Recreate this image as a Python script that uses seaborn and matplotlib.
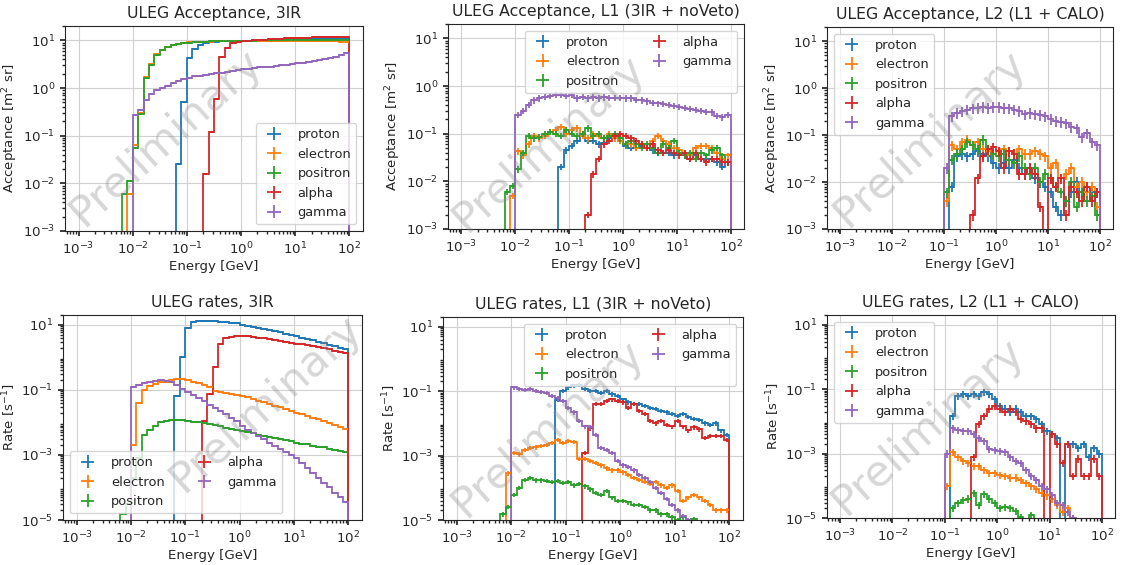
import numpy as np
import matplotlib
matplotlib.use("Agg")
import matplotlib.pyplot as plt
import seaborn as sns

# 10 log bins per decade from 1 MeV to 100 GeV
energy_edges = np.logspace(-3, 2, 51)
species = ["proton", "electron", "positron", "alpha", "gamma"]


def pad(start, vals):
    out = [0.0] * start + list(vals)
    return out + [0.0] * (50 - len(out))


# ---- acceptance, 3IR ----
acc_3ir_proton = pad(18, [0.025, 0.5, 4.2, 6.5, 8.0, 8.8, 9.2, 9.4, 9.5, 9.6, 9.7, 9.8, 9.8, 9.9, 10.0, 10.0,
                          10.1, 10.1, 10.2, 10.2, 10.3, 10.3, 10.4, 10.4, 10.5, 10.5, 10.6, 10.6, 10.7, 10.7, 10.8, 10.8])
acc_3ir_electron = pad(9, [0.006, 0.065, 0.3, 1.7, 3.2, 5.2, 6.3, 7.2, 8.0, 8.5, 8.9, 9.1, 9.2, 9.3, 9.4, 9.4, 9.5,
                           9.6, 9.6, 9.6, 9.7, 9.7, 9.7, 9.7, 9.8, 9.8, 9.8, 9.7, 9.7, 9.7, 9.6, 9.6, 9.6, 9.6, 9.5,
                           9.5, 9.5, 9.5, 9.5, 9.4, 9.4])
acc_3ir_positron = pad(8, [0.006, 0.011, 0.055, 0.28, 1.6, 3.0, 5.0, 6.2, 7.1, 7.9, 8.4, 8.8, 9.0, 9.2, 9.3, 9.4, 9.5,
                           9.6, 9.7, 9.7, 9.8, 9.8, 9.9, 9.9, 9.9, 10.0, 10.0, 10.0, 10.0, 10.1, 10.1, 10.1, 10.1,
                           10.2, 10.2, 10.2, 10.2, 10.2, 10.3, 10.3, 10.3, 10.3])
acc_3ir_alpha = pad(23, [0.016, 0.12, 0.6, 4.5, 7.0, 8.8, 9.4, 9.6, 9.8, 10.0, 10.2, 10.4, 10.5, 10.7, 10.8, 11.0,
                         11.1, 11.2, 11.3, 11.4, 11.5, 11.6, 11.7, 11.8, 11.9, 12.0, 12.0])
acc_3ir_gamma = pad(10, [0.27, 0.35, 0.55, 0.75, 0.9, 1.0, 1.1, 1.25, 1.4, 1.55,
                         1.65, 1.75, 1.8, 1.9, 1.95, 2.05, 2.1, 2.2, 2.3, 2.4,
                         2.5, 2.55, 2.6, 2.7, 2.75, 2.8, 2.9, 3.0, 3.1, 3.2,
                         3.3, 3.4, 3.5, 3.65, 3.8, 4.0, 4.2, 4.5, 4.9, 5.4])

# ---- acceptance, L1 ----
acc_l1_proton = pad(18, [0.02, 0.045, 0.055, 0.07, 0.1, 0.07, 0.07, 0.06, 0.065, 0.08, 0.085, 0.07, 0.055, 0.05,
                         0.05, 0.055, 0.05, 0.045, 0.04, 0.04, 0.04, 0.035, 0.04, 0.035, 0.03, 0.035, 0.03, 0.03,
                         0.03, 0.025, 0.02, 0.025])
acc_l1_electron = pad(9, [0.005, 0.043, 0.035, 0.06, 0.09, 0.08, 0.09, 0.11, 0.12, 0.14, 0.1, 0.12, 0.13, 0.09, 0.08,
                          0.1, 0.09, 0.08, 0.1, 0.08, 0.07, 0.06, 0.06, 0.05, 0.06, 0.05, 0.07, 0.09, 0.07, 0.06,
                          0.05, 0.045, 0.04, 0.035, 0.05, 0.055, 0.055, 0.05, 0.04, 0.03, 0.035])
acc_l1_positron = pad(8, [0.006, 0.008, 0.018, 0.04, 0.09, 0.08, 0.085, 0.1, 0.11, 0.1, 0.09, 0.12, 0.1, 0.09, 0.1,
                          0.13, 0.09, 0.1, 0.08, 0.09, 0.1, 0.08, 0.06, 0.07, 0.06, 0.05, 0.06, 0.05, 0.04, 0.06,
                          0.05, 0.07, 0.04, 0.035, 0.04, 0.03, 0.04, 0.035, 0.045, 0.05, 0.035, 0.025])
acc_l1_alpha = pad(23, [0.002, 0.014, 0.03, 0.06, 0.07, 0.09, 0.1, 0.09, 0.08, 0.07, 0.06, 0.05, 0.06, 0.045, 0.04,
                        0.045, 0.04, 0.035, 0.04, 0.03, 0.04, 0.03, 0.025, 0.03, 0.03, 0.025, 0.025])
acc_l1_gamma = pad(10, [0.25, 0.3, 0.4, 0.5, 0.55, 0.6, 0.62, 0.65, 0.65, 0.62,
                        0.65, 0.55, 0.6, 0.55, 0.58, 0.55, 0.58, 0.56, 0.57, 0.56,
                        0.55, 0.55, 0.52, 0.5, 0.48, 0.45, 0.43, 0.42, 0.4, 0.38,
                        0.37, 0.35, 0.33, 0.32, 0.3, 0.29, 0.28, 0.24, 0.22, 0.25])

# ---- acceptance, L2 ----
acc_l2_proton = pad(21, [0.008, 0.035, 0.04, 0.035, 0.04, 0.045, 0.04, 0.035, 0.025, 0.02, 0.025, 0.02, 0.03, 0.02,
                         0.015, 0.02, 0.012, 0.01, 0.008, 0.006, 0.003, 0.002, 0.004, 0.006, 0.01, 0.006, 0.008,
                         0.006, 0.006])
acc_l2_electron = pad(20, [0.004, 0.06, 0.05, 0.07, 0.08, 0.06, 0.07, 0.05, 0.045, 0.04,
                           0.045, 0.05, 0.045, 0.04, 0.05, 0.04, 0.04, 0.045, 0.04, 0.035,
                           0.02, 0.025, 0.012, 0.015, 0.02, 0.008, 0.01, 0.006, 0.008, 0.003])
acc_l2_positron = pad(20, [0.006, 0.03, 0.04, 0.05, 0.07, 0.06, 0.05, 0.08, 0.05, 0.04,
                           0.035, 0.04, 0.03, 0.025, 0.035, 0.02, 0.015, 0.02, 0.01, 0.015,
                           0.012, 0.008, 0.006, 0.004, 0.01, 0.003, 0.006, 0.004, 0.005, 0.002])
acc_l2_alpha = pad(25, [0.002, 0.012, 0.035, 0.05, 0.055,
                        0.045, 0.02, 0.045, 0.04, 0.015, 0.015, 0.02, 0.015, 0.003, 0.0,
                        0.012, 0.008, 0.012, 0.002, 0.008, 0.006, 0.004, 0.008, 0.004, 0.006])
acc_l2_gamma = pad(20, [0.02, 0.25, 0.3, 0.32, 0.35, 0.37, 0.38, 0.4, 0.38, 0.4,
                        0.4, 0.38, 0.37, 0.35, 0.33, 0.28, 0.3, 0.28, 0.27, 0.25,
                        0.22, 0.2, 0.19, 0.18, 0.15, 0.14, 0.09, 0.11, 0.07, 0.06])

# ---- rates, 3IR ----
rate_3ir_proton = pad(18, [0.065, 1.0, 8.0, 12, 13, 13.5, 13.5, 13, 12.5, 12,
                           11.5, 11, 10, 9.3, 8.7, 8.1, 7.5, 6.9, 6.3, 5.8,
                           5.3, 4.9, 4.4, 4.0, 3.6, 3.3, 3.0, 2.7, 2.4, 2.2, 2.0, 1.8])
rate_3ir_electron = pad(10, [0.002, 0.04, 0.1, 0.13, 0.15, 0.17, 0.18, 0.2, 0.22, 0.21,
                             0.2, 0.18, 0.16, 0.14, 0.12, 0.09, 0.085, 0.08, 0.075, 0.07,
                             0.066, 0.059, 0.052, 0.046, 0.041, 0.037, 0.033, 0.029, 0.025, 0.022,
                             0.02, 0.018, 0.016, 0.014, 0.0125, 0.011, 0.0098, 0.0085, 0.0072, 0.0062])
rate_3ir_positron = pad(8, [1.5e-5, 3e-5,
                            0.0002, 0.0008, 0.004, 0.006, 0.008, 0.01, 0.011, 0.012, 0.012, 0.012,
                            0.011, 0.0105, 0.01, 0.0095, 0.009, 0.0082, 0.0075, 0.0068, 0.0062, 0.0058,
                            0.0054, 0.005, 0.0046, 0.0042, 0.0039, 0.0036, 0.0033, 0.003, 0.0028, 0.0026,
                            0.0024, 0.0022, 0.0021, 0.0019, 0.0018, 0.0017, 0.0015, 0.0014, 0.0013, 0.00125])
rate_3ir_alpha = pad(23, [0.011, 0.074, 0.5, 2.5, 3.8, 4.3, 4.5,
                          4.5, 4.4, 4.2, 4.0, 3.8, 3.6, 3.4, 3.2, 3.0, 2.8,
                          2.65, 2.5, 2.35, 2.2, 2.05, 1.9, 1.75, 1.6, 1.5, 1.4])
rate_3ir_gamma = pad(10, [0.12, 0.14, 0.16, 0.18, 0.19, 0.2, 0.19, 0.17, 0.14, 0.11,
                          0.085, 0.07, 0.055, 0.045, 0.035, 0.028, 0.022, 0.018, 0.014, 0.011,
                          0.008, 0.006, 0.0047, 0.0038, 0.003, 0.0024, 0.0019, 0.0015, 0.0012, 0.001,
                          0.0008, 0.00056, 0.0004, 0.00028, 0.0002, 0.00014, 0.0001, 7e-5, 5e-5, 3.5e-5])

# ---- rates, L1 ----
rate_l1_proton = pad(18, [0.054, 0.1, 0.13, 0.15, 0.16, 0.12, 0.1, 0.1, 0.09, 0.1,
                          0.08, 0.07, 0.055, 0.045, 0.04, 0.04, 0.035, 0.03, 0.028, 0.025,
                          0.022, 0.02, 0.017, 0.02, 0.016, 0.014, 0.013, 0.01, 0.009, 0.01, 0.006, 0.0045])
rate_l1_electron = pad(9, [0.00028, 0.0012, 0.0011, 0.0015, 0.0017, 0.0018, 0.002, 0.0022, 0.0025, 0.003,
                           0.0025, 0.0028, 0.0027, 0.0008, 0.0008, 0.0007, 0.0006, 0.0005, 0.0004, 0.00035,
                           0.00035, 0.0003, 0.00025, 0.0002, 0.00018, 0.00015, 0.00013, 0.00015, 0.00012, 0.0001,
                           0.00012, 8e-5, 4e-5, 5e-5, 6e-5, 5e-5, 4e-5, 3e-5, 2e-5, 2e-5, 2e-5])
rate_l1_positron = pad(8, [1.5e-5, 2.5e-5,
                           6e-5, 0.0001, 0.00018, 0.0002, 0.00017, 0.00017, 0.00016, 0.00015, 0.00016, 0.00014,
                           0.00015, 0.00012, 0.00013, 0.00011, 9e-5, 7e-5, 6e-5, 8e-5, 5e-5, 4e-5,
                           4e-5, 3.5e-5, 3e-5, 3e-5, 2.5e-5, 2e-5, 2e-5, 1.5e-5, 1.5e-5, 1.2e-5,
                           1e-5, 1.2e-5, 6e-6, 1.1e-5, 5e-6, 4e-6])
rate_l1_alpha = pad(23, [0.0012, 0.007, 0.04, 0.04, 0.05, 0.055, 0.05,
                         0.045, 0.03, 0.04, 0.025, 0.02, 0.012, 0.01, 0.012, 0.009, 0.008,
                         0.012, 0.008, 0.006, 0.0075, 0.0065, 0.0035, 0.004, 0.004, 0.004, 0.003])
rate_l1_gamma = pad(10, [0.13, 0.12, 0.11, 0.12, 0.1, 0.095, 0.09, 0.07, 0.06, 0.05,
                         0.03, 0.022, 0.012, 0.008, 0.0075, 0.0045, 0.0017, 0.0015, 0.0012, 0.0007,
                         0.0005, 0.00045, 0.00035, 0.00025, 0.0002, 0.00015, 0.0001, 7e-5, 4.5e-5, 3e-5,
                         2e-5, 1.3e-5, 1e-5, 8e-6])

# ---- rates, L2 ----
rate_l2_proton = pad(21, [0.015, 0.06, 0.07, 0.06, 0.07, 0.06, 0.08, 0.07, 0.05,
                          0.03, 0.025, 0.02, 0.025, 0.02, 0.015, 0.015, 0.012, 0.008, 0.005,
                          0.004, 0.003, 5e-6, 0.002, 0.002, 0.0015, 0.002, 0.0008, 0.0015, 0.001])
rate_l2_electron = pad(20, [0.0001, 0.0011, 0.0008, 0.0006, 0.0005, 0.0004, 0.0004, 0.0003, 0.00025, 0.00025,
                            0.00022, 0.0002, 0.00018, 0.00018, 0.00015, 0.00012, 0.0001, 8e-5, 6e-5, 5e-5,
                            4e-5, 2.5e-5, 1.5e-5, 2e-5, 1e-5, 8e-6])
rate_l2_positron = pad(21, [2e-5, 3e-5, 3.5e-5, 4e-5, 6e-5, 2.5e-5, 5.5e-5, 4e-5, 3e-5,
                            2e-5, 2.2e-5, 2e-5, 1.6e-5, 1.1e-5, 8e-6, 1.2e-5, 6e-6])
rate_l2_alpha = pad(25, [0.0008, 0.008, 0.015, 0.025, 0.03,
                         0.025, 0.02, 0.025, 0.02, 0.012, 0.01, 0.008, 0.006, 0.006, 5e-6,
                         0.004, 0.002, 0.0005, 0.002, 0.0002, 0.0007, 0.0002, 0.0002, 0.0007, 0.0002])
rate_l2_gamma = pad(20, [0.001, 0.006, 0.0055, 0.005, 0.005, 0.004, 0.003, 0.0025, 0.0014, 0.0013,
                         0.0012, 0.0011, 0.0008, 0.0006, 0.0005, 0.0003, 0.0002, 0.00015, 0.0001, 8e-5,
                         5e-5, 3e-5, 2.5e-5, 1.5e-5, 1e-5])

panels = [
    ("ULEG Acceptance, 3IR", "acc", [acc_3ir_proton, acc_3ir_electron, acc_3ir_positron, acc_3ir_alpha, acc_3ir_gamma],
     0.04, dict(loc="lower right", ncol=1), (0.34, 0.46)),
    ("ULEG Acceptance, L1 (3IR + noVeto)", "acc", [acc_l1_proton, acc_l1_electron, acc_l1_positron, acc_l1_alpha, acc_l1_gamma],
     0.15, dict(loc="upper right", ncol=2), (0.34, 0.42)),
    ("ULEG Acceptance, L2 (L1 + CALO)", "acc", [acc_l2_proton, acc_l2_electron, acc_l2_positron, acc_l2_alpha, acc_l2_gamma],
     0.25, dict(loc="upper left", ncol=1), (0.36, 0.45)),
    ("ULEG rates, 3IR", "rate", [rate_3ir_proton, rate_3ir_electron, rate_3ir_positron, rate_3ir_alpha, rate_3ir_gamma],
     0.02, dict(loc="lower left", ncol=2), (0.68, 0.57)),
    ("ULEG rates, L1 (3IR + noVeto)", "rate", [rate_l1_proton, rate_l1_electron, rate_l1_positron, rate_l1_alpha, rate_l1_gamma],
     0.15, dict(loc="upper right", ncol=2), (0.35, 0.45)),
    ("ULEG rates, L2 (L1 + CALO)", "rate", [rate_l2_proton, rate_l2_electron, rate_l2_positron, rate_l2_alpha, rate_l2_gamma],
     0.25, dict(loc="upper left", ncol=1), (0.35, 0.45)),
]

# axes boxes in pixels: left, top, right, bottom
boxes = [(65, 26, 363, 231), (448, 24, 744, 229), (827, 27, 1113, 229),
         (63, 315, 362, 520), (443, 317, 743, 520), (827, 315, 1115, 518)]

sns.set_theme(style="ticks", rc={
    "xtick.major.size": 3.5, "ytick.major.size": 3.5,
    "xtick.minor.size": 2, "ytick.minor.size": 2,
    "axes.edgecolor": "0.15", "axes.linewidth": 0.8,
})
plt.rcParams["font.family"] = ["DejaVu Sans"]
colors = sns.color_palette("tab10")

W, H = 1127, 565
fig = plt.figure(figsize=(W / 100, H / 100), dpi=100)

lo = energy_edges[:-1]
hi = energy_edges[1:]
centers = np.sqrt(lo * hi)

for (title, kind, series, rel, leg_kw, wm), (l, t, r, b) in zip(panels, boxes):
    ax = fig.add_axes([l / W, 1 - b / H, (r - l) / W, (b - t) / H])
    ax.set_xscale("log")
    ax.set_yscale("log")
    for name, vals, c in zip(species, series, colors):
        y = np.array(vals, dtype=float)
        ax.stairs(y, energy_edges, baseline=0, color=c, lw=1.3)
        m = y > 0
        ax.errorbar(centers[m], y[m], xerr=[centers[m] - lo[m], hi[m] - centers[m]],
                    yerr=rel * y[m], fmt="none", ecolor=c, elinewidth=1.3, label=name)
    ax.set_xlim(10 ** -3.25, 10 ** 2.25)
    ax.set_xticks([1e-3, 1e-2, 1e-1, 1e0, 1e1, 1e2])
    if kind == "acc":
        ax.set_ylim(1e-3, 20)
        ax.set_yticks([1e-3, 1e-2, 1e-1, 1e0, 1e1])
        ax.set_ylabel("Acceptance [m$^2$ sr]", fontsize=9.6, labelpad=2)
    else:
        ax.set_ylim(1e-5, 20)
        ax.set_yticks([1e-5, 1e-3, 1e-1, 1e1])
        ax.set_ylabel("Rate [s$^{-1}$]", fontsize=9.6, labelpad=2)
    ax.tick_params(labelsize=9.6)
    ax.grid(True, which="major", color="0.82", lw=0.8)
    ax.set_xlabel("Energy [GeV]", fontsize=9.6, labelpad=2)
    ax.set_title(title, fontsize=11.3)
    ax.legend(fontsize=9.4, **leg_kw)
    ax.text(wm[0], wm[1], "Preliminary", transform=ax.transAxes, rotation=42,
            fontsize=31, color="0.55", alpha=0.35, ha="center", va="center", zorder=10)

fig.savefig("out.png", dpi=100)
